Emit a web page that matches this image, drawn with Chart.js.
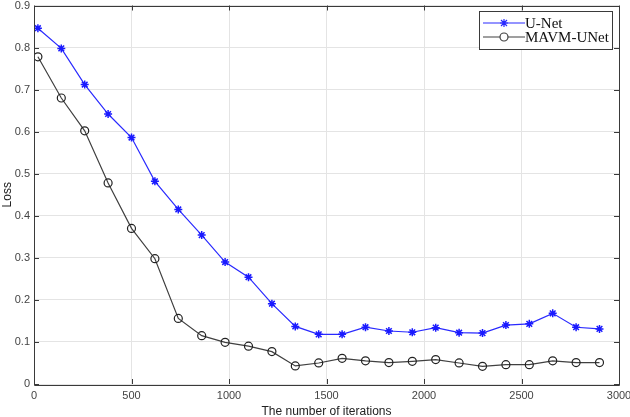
<!DOCTYPE html>
<html>
<head>
<meta charset="utf-8">
<script src="https://cdn.jsdelivr.net/npm/chart.js@4/dist/chart.umd.min.js"></script>
<style>
html,body{margin:0;padding:0;background:#fff;}
#wrap{width:630px;height:417px;position:relative;}
</style>
</head>
<body>
<div id="wrap"><canvas id="c" width="630" height="417"></canvas></div>
<script>
const iterations = [20,140,260,380,500,620,740,860,980,1100,1220,1340,1460,1580,1700,1820,1940,2060,2180,2300,2420,2540,2660,2780,2900];
const unetLoss = [0.846,0.798,0.712,0.642,0.586,0.482,0.415,0.354,0.290,0.254,0.191,0.137,0.118,0.118,0.135,0.126,0.123,0.134,0.122,0.121,0.140,0.143,0.168,0.135,0.131];
const mavmLoss = [0.778,0.680,0.602,0.478,0.370,0.298,0.156,0.115,0.099,0.090,0.077,0.043,0.050,0.061,0.055,0.051,0.054,0.058,0.050,0.042,0.046,0.046,0.055,0.051,0.051];
const seriesNames = ["U-Net","MAVM-UNet"];
const xTicks = [0,500,1000,1500,2000,2500,3000];
const yTicks = [0,0.1,0.2,0.3,0.4,0.5,0.6,0.7,0.8,0.9];

const unetColor = '#2a2aff';
const mavmColor = '#404040';

const boxPlugin = {
  id: 'boxPlugin',
  afterDraw(chart) {
    const ctx = chart.ctx;
    const a = chart.chartArea;
    const xs = chart.scales.x, ys = chart.scales.y;
    ctx.save();
    ctx.strokeStyle = '#3a3a3a';
    ctx.lineWidth = 1;
    ctx.beginPath();
    ctx.rect(Math.round(a.left)+0.5, Math.round(a.top)+0.5, Math.round(a.right-a.left), Math.round(a.bottom-a.top));
    ctx.stroke();
    // inward ticks
    ctx.beginPath();
    xTicks.forEach(v => {
      const px = Math.round(xs.getPixelForValue(v))+0.5;
      ctx.moveTo(px, a.bottom); ctx.lineTo(px, a.bottom-5);
      ctx.moveTo(px, a.top); ctx.lineTo(px, a.top+5);
    });
    yTicks.forEach(v => {
      const py = Math.round(ys.getPixelForValue(v))+0.5;
      ctx.moveTo(a.left, py); ctx.lineTo(a.left+5, py);
      ctx.moveTo(a.right, py); ctx.lineTo(a.right-5, py);
    });
    ctx.stroke();
    // legend
    const lx = 479, ly = 11, lw = 133, lh = 38;
    ctx.fillStyle = '#fff';
    ctx.fillRect(lx, ly, lw, lh);
    ctx.strokeStyle = '#3a3a3a';
    ctx.lineWidth = 1;
    ctx.strokeRect(lx+0.5, ly+0.5, lw, lh);
    ctx.font = '15px "Liberation Serif", serif';
    ctx.textBaseline = 'middle';
    ctx.textAlign = 'left';
    const rows = [
      {name: seriesNames[0], color: unetColor, y: ly+12, marker: 'star'},
      {name: seriesNames[1], color: mavmColor, y: ly+26, marker: 'circle'}
    ];
    rows.forEach(r => {
      ctx.strokeStyle = r.color;
      ctx.lineWidth = 1.2;
      ctx.beginPath();
      ctx.moveTo(lx+4, r.y); ctx.lineTo(lx+46, r.y);
      ctx.stroke();
      const mx = lx+25;
      ctx.beginPath();
      if (r.marker === 'star') {
        const s = 4;
        ctx.moveTo(mx-s, r.y); ctx.lineTo(mx+s, r.y);
        ctx.moveTo(mx, r.y-s); ctx.lineTo(mx, r.y+s);
        ctx.moveTo(mx-3, r.y-3); ctx.lineTo(mx+3, r.y+3);
        ctx.moveTo(mx-3, r.y+3); ctx.lineTo(mx+3, r.y-3);
        ctx.stroke();
      } else {
        ctx.fillStyle = '#fff';
        ctx.arc(mx, r.y, 4, 0, Math.PI*2);
        ctx.fill();
        ctx.stroke();
      }
      ctx.fillStyle = '#111';
      ctx.fillText(r.name, lx+46, r.y+1);
    });
    ctx.restore();
  }
};

new Chart(document.getElementById('c'), {
  type: 'line',
  data: {
    datasets: [
      {
        label: seriesNames[0],
        data: iterations.map((x,i)=>({x:x, y:unetLoss[i]})),
        borderColor: unetColor,
        backgroundColor: unetColor,
        borderWidth: 1.2,
        pointStyle: 'star',
        pointRadius: 4,
        pointBorderWidth: 1.5,
        pointBorderColor: '#1a1aff',
        tension: 0
      },
      {
        label: seriesNames[1],
        data: iterations.map((x,i)=>({x:x, y:mavmLoss[i]})),
        borderColor: mavmColor,
        backgroundColor: 'rgba(255,255,255,0)',
        borderWidth: 1.2,
        pointStyle: 'circle',
        pointRadius: 4,
        pointBorderWidth: 1.2,
        pointBorderColor: '#222',
        tension: 0
      }
    ]
  },
  options: {
    responsive: false,
    animation: false,
    layout: {padding: {left: 0, right: 11, top: 5, bottom: 0}},
    plugins: {legend: {display: false}, tooltip: {enabled: false}},
    scales: {
      x: {
        type: 'linear',
        min: 0, max: 3000,
        afterBuildTicks: s => { s.ticks = xTicks.map(v => ({value: v})); },
        afterFit: s => { s.height = 33; s.paddingLeft = 0; s.paddingRight = 0; },
        grid: {color: '#e4e4e4', drawTicks: false, lineWidth: 1},
        border: {display: false},
        ticks: {color: '#444', font: {family: 'Liberation Sans', size: 11}, padding: 5, maxRotation: 0,
                callback: v => String(v)},
        title: {display: true, text: 'The number of iterations', color: '#222',
                font: {family: 'Liberation Sans', size: 12}, padding: {top: 0, bottom: -2}}
      },
      y: {
        type: 'linear',
        min: 0, max: 0.9,
        afterBuildTicks: s => { s.ticks = yTicks.map(v => ({value: v})); },
        afterFit: s => { s.width = 34; s.paddingTop = 0; s.paddingBottom = 0; },
        grid: {color: '#e4e4e4', drawTicks: false, lineWidth: 1},
        border: {display: false},
        ticks: {color: '#444', font: {family: 'Liberation Sans', size: 11}, padding: 4,
                callback: v => (v === 0 ? '0' : v.toFixed(1))},
        title: {display: true, text: 'Loss', color: '#222',
                font: {family: 'Liberation Sans', size: 12}, padding: {top: 0, bottom: 0}}
      }
    }
  },
  plugins: [boxPlugin]
});
</script>
</body>
</html>
